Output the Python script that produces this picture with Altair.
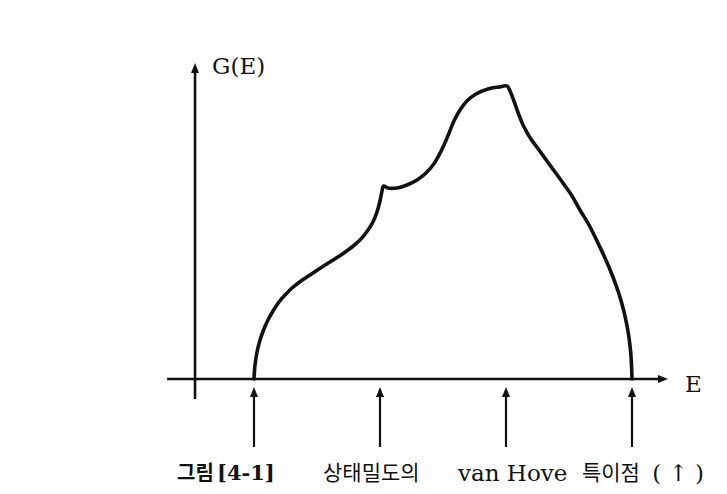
import altair as alt
import pandas as pd

# ---- data (E in units where the singularities sit at 1..4, G in arbitrary units) ----
curve_E = [1.000, 1.008, 1.024, 1.048, 1.079, 1.111, 1.151, 1.198, 1.246, 1.302,
           1.373, 1.444, 1.516, 1.603, 1.690, 1.778, 1.849, 1.905, 1.944, 1.976,
           2.000, 2.016, 2.028,
           2.063, 2.135, 2.214, 2.294, 2.365, 2.421, 2.460, 2.508, 2.548, 2.587,
           2.635, 2.690, 2.762, 2.857, 2.944, 3.008, 3.032, 3.063, 3.103, 3.143,
           3.198, 3.262, 3.325, 3.389, 3.452, 3.524, 3.587, 3.659, 3.722, 3.786,
           3.849, 3.897, 3.937, 3.968, 3.988, 3.996, 4.000]
curve_G = [0.00, 0.14, 0.27, 0.39, 0.50, 0.59, 0.68, 0.77, 0.84, 0.91,
           0.98, 1.04, 1.10, 1.17, 1.24, 1.32, 1.40, 1.49, 1.57, 1.67,
           1.78, 1.88, 1.93,
           1.91, 1.91, 1.94, 1.99, 2.06, 2.14, 2.22, 2.34, 2.46, 2.58,
           2.69, 2.78, 2.85, 2.90, 2.92, 2.93, 2.88, 2.78, 2.64, 2.52,
           2.40, 2.29, 2.18, 2.07, 1.96, 1.83, 1.69, 1.54, 1.38, 1.21,
           1.02, 0.85, 0.67, 0.48, 0.29, 0.14, 0.00]

# axes (drawn as arrows)
e_axis_E = [0.31, 4.25]
g_axis_E = 0.532
g_axis_G = [-0.20, 3.10]
e_axis_head_E = 4.246
g_axis_head_G = 3.11

# van Hove singularity markers
sing_E = [1.0, 2.0, 3.0, 4.0]
sing_bottom_G = -0.68
sing_top_G = -0.14
sing_head_G = -0.13

# labels
serif_text = ["G(E)", "E", "van Hove", "( ↑ )"]
serif_E = [0.667, 4.421, 2.619, 4.160]
serif_G = [3.12, -0.06, -0.95, -0.95]
serif_size = 23

kor_text = ["상태밀도의", "특이점"]
kor_E = [1.548, 3.603]
kor_G = [-0.95, -0.95]

kor_bold_text = ["그림"]
kor_bold_E = [0.389]
kor_bold_G = [-0.95]

serif_bold_text = ["[4-1]"]
serif_bold_E = [0.706]
serif_bold_G = [-0.95]

# ---- chart ----
W, H = 711, 478
xs = alt.Scale(domain=[-0.95238, 4.69048], nice=False, zero=False)
ys = alt.Scale(domain=[-1.07, 3.71], nice=False, zero=False)
INK = "#111111"

curve_df = pd.DataFrame({"E": curve_E, "G": curve_G})
curve = alt.Chart(curve_df).mark_line(
    color=INK, strokeWidth=3.6, interpolate="catmull-rom", strokeJoin="round", strokeCap="round"
).encode(
    x=alt.X("E:Q", scale=xs, axis=None),
    y=alt.Y("G:Q", scale=ys, axis=None),
)

axes_df = pd.DataFrame({
    "x1": [e_axis_E[0], g_axis_E],
    "x2": [e_axis_E[1], g_axis_E],
    "y1": [0.0, g_axis_G[0]],
    "y2": [0.0, g_axis_G[1]],
})
axes = alt.Chart(axes_df).mark_rule(color=INK, strokeWidth=2.6).encode(
    x=alt.X("x1:Q", scale=xs, axis=None), x2="x2:Q",
    y=alt.Y("y1:Q", scale=ys, axis=None), y2="y2:Q",
)

sing_df = pd.DataFrame({"E": sing_E, "y1": [sing_bottom_G] * 4, "y2": [sing_top_G] * 4})
sing = alt.Chart(sing_df).mark_rule(color=INK, strokeWidth=2.2).encode(
    x=alt.X("E:Q", scale=xs, axis=None),
    y=alt.Y("y1:Q", scale=ys, axis=None), y2="y2:Q",
)

up_df = pd.DataFrame({"E": sing_E + [g_axis_E], "G": [sing_head_G] * 4 + [g_axis_head_G]})
up_heads = alt.Chart(up_df).mark_point(
    shape="M0,-1L0.8,1L-0.8,1Z", filled=True, opacity=1, color=INK, size=100, strokeWidth=0
).encode(
    x=alt.X("E:Q", scale=xs, axis=None),
    y=alt.Y("G:Q", scale=ys, axis=None),
)

right_df = pd.DataFrame({"E": [e_axis_head_E], "G": [0.0]})
right_head = alt.Chart(right_df).mark_point(
    shape="M1,0L-1,0.8L-1,-0.8Z", filled=True, opacity=1, color=INK, size=100, strokeWidth=0
).encode(
    x=alt.X("E:Q", scale=xs, axis=None),
    y=alt.Y("G:Q", scale=ys, axis=None),
)

def text_layer(texts, es, gs, font, size, weight="normal"):
    df = pd.DataFrame({"t": texts, "E": es, "G": gs})
    return alt.Chart(df).mark_text(
        align="left", baseline="middle", font=font, fontSize=size,
        fontWeight=weight, color=INK
    ).encode(
        x=alt.X("E:Q", scale=xs, axis=None),
        y=alt.Y("G:Q", scale=ys, axis=None),
        text="t:N",
    )

serif_layer = text_layer(serif_text, serif_E, serif_G, "DejaVu Serif", serif_size)
kor_layer = text_layer(kor_text, kor_E, kor_G, "Noto Sans CJK KR", 21)
kor_bold_layer = text_layer(kor_bold_text, kor_bold_E, kor_bold_G, "Noto Sans CJK KR", 20, "bold")
serif_bold_layer = text_layer(serif_bold_text, serif_bold_E, serif_bold_G, "DejaVu Serif", 21, "bold")

chart = alt.layer(
    axes, sing, up_heads, right_head, curve,
    serif_layer, kor_layer, kor_bold_layer, serif_bold_layer
).properties(
    width=W, height=H, padding=0, autosize=alt.AutoSizeParams(type="none"),
    background="white"
).configure_view(stroke=None)

chart.save("out.html", embed_options={"renderer": "svg", "actions": False})
